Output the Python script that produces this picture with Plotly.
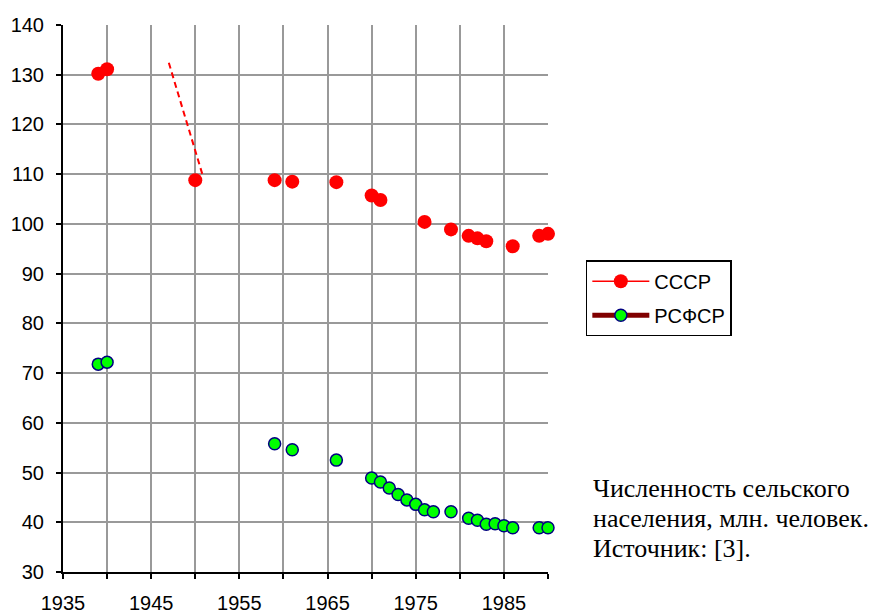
import plotly.graph_objects as go

# Data
ussr_years = [1939, 1940, 1950, 1959, 1961, 1966, 1970, 1971, 1976, 1979, 1981, 1982, 1983, 1986, 1989, 1990]
ussr_values = [130.2, 131.1, 108.8, 108.8, 108.5, 108.4, 105.7, 104.8, 100.4, 98.9, 97.6, 97.1, 96.5, 95.5, 97.6, 98.0]

rsfsr_years = [1939, 1940, 1959, 1961, 1966, 1970, 1971, 1972, 1973, 1974, 1975, 1976, 1977, 1979,
               1981, 1982, 1983, 1984, 1985, 1986, 1989, 1990]
rsfsr_values = [71.8, 72.2, 55.8, 54.6, 52.5, 48.9, 48.1, 46.9, 45.6, 44.5, 43.6, 42.5, 42.1, 42.1,
                40.8, 40.4, 39.6, 39.7, 39.3, 38.9, 38.9, 38.9]

# dashed connector drawn in the original
dash_years = [1947.0, 1950.8]
dash_values = [132.4, 110.0]

series_names = ["СССР", "РСФСР"]
x_tick_values = [1935, 1945, 1955, 1965, 1975, 1985]
x_tick_labels = ["1935", "1945", "1955", "1965", "1975", "1985"]
x_minor_values = [1940, 1950, 1960, 1970, 1980, 1990]
note_lines = ["Численность сельского", "населения, млн. человек.", "Источник: [3]."]
note_y = [0.152, 0.097, 0.043]

fig = go.Figure()

fig.add_trace(go.Scatter(x=dash_years, y=dash_values, mode="lines",
                         line=dict(color="#ff0000", width=2, dash="6px,4px"),
                         showlegend=False, hoverinfo="skip"))

fig.add_trace(go.Scatter(x=ussr_years, y=ussr_values, mode="markers",
                         marker=dict(color="#ff0000", size=14, line=dict(width=0)),
                         showlegend=False, cliponaxis=False))
fig.add_trace(go.Scatter(x=rsfsr_years, y=rsfsr_values, mode="markers",
                         marker=dict(color="#00ff00", size=12, line=dict(color="#000080", width=1.5)),
                         showlegend=False, cliponaxis=False))

# legend entries
fig.add_trace(go.Scatter(x=[None], y=[None], mode="lines+markers", name=series_names[0],
                         legendgroup="a",
                         line=dict(color="#ff0000", width=1.5),
                         marker=dict(color="#ff0000", size=14)))
fig.add_trace(go.Scatter(x=[None], y=[None], mode="lines+markers", name=series_names[1],
                         legendgroup="b",
                         line=dict(color="#800000", width=5),
                         marker=dict(color="#00ff00", size=12, line=dict(color="#000080", width=1.5))))

annotations = [dict(text=t, x=1.0887, y=yy, xref="paper", yref="paper",
                    xanchor="left", yanchor="middle", align="left", showarrow=False,
                    font=dict(family="Liberation Serif, Times New Roman, serif", size=26, color="black"))
               for t, yy in zip(note_lines, note_y)]

fig.update_layout(
    width=869, height=607,
    margin=dict(l=55, r=329, t=17, b=43),
    paper_bgcolor="white", plot_bgcolor="white",
    font=dict(family="Liberation Sans, Arial, sans-serif", size=20, color="black"),
    showlegend=True,
    legend=dict(x=1.078, y=0.570, xanchor="left", yanchor="top",
                bordercolor="black", borderwidth=1.5, bgcolor="white",
                font=dict(size=20), itemwidth=57, tracegroupgap=5),
    annotations=annotations,
)

fig.update_xaxes(range=[1935, 1990], tickvals=x_tick_values, ticktext=x_tick_labels,
                 showline=True, linecolor="black", linewidth=2,
                 ticks="outside", ticklen=5, tickwidth=2, tickcolor="black",
                 showgrid=True, gridcolor="#999999", gridwidth=2,
                 minor=dict(tickvals=x_minor_values, ticks="outside", ticklen=5,
                            tickwidth=2, tickcolor="black", showgrid=True, gridcolor="#999999", gridwidth=2),
                 zeroline=False, ticklabelstandoff=7, automargin=False)
fig.update_yaxes(range=[30, 140], dtick=10, tick0=30,
                 showline=True, linecolor="black", linewidth=2,
                 ticks="outside", ticklen=5, tickwidth=2, tickcolor="black",
                 showgrid=True, gridcolor="#999999", gridwidth=2,
                 zeroline=False, ticklabelstandoff=8, automargin=False)

fig.write_html("out.html")
